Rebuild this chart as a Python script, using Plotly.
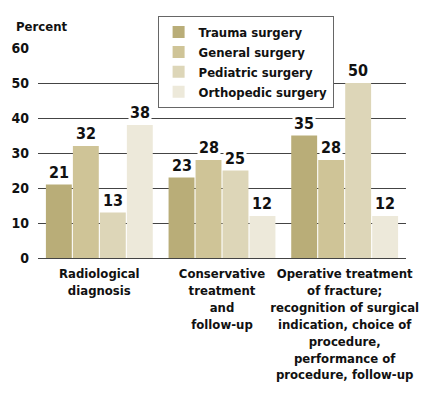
import plotly.graph_objects as go

categories = [
    "Radiological<br>diagnosis",
    "Conservative<br>treatment<br>and<br>follow-up",
    "Operative treatment<br>of fracture;<br>recognition of surgical<br>indication, choice of<br>procedure,<br>performance of<br>procedure, follow-up",
]
series_names = ["Trauma surgery", "General surgery", "Pediatric surgery", "Orthopedic surgery"]
trauma = [21, 23, 35]
general = [32, 28, 28]
pediatric = [13, 25, 50]
orthopedic = [38, 12, 12]
y_ticks = [0, 10, 20, 30, 40, 50, 60]

values = [trauma, general, pediatric, orthopedic]
colors = ["#b9ad78", "#cfc497", "#ddd6b8", "#ede9da"]

FONT = "DejaVu Sans Condensed, Liberation Sans Narrow, Roboto, sans-serif"

W, H = 424, 404
ml, mr, mt, mb = 38, 18, 48, 146
bargap = 0.12
slot = (W - ml - mr) / len(categories) * (1 - bargap) / len(series_names)

fig = go.Figure()
annotations = []
for j, (name, vals, col) in enumerate(zip(series_names, values, colors)):
    fig.add_trace(go.Bar(
        name=name, x=categories, y=vals, marker=dict(color=col, line=dict(width=0)),
    ))
    for c, v in zip(categories, vals):
        annotations.append(dict(
            x=c, y=v, xref="x", yref="y", text=str(v), showarrow=False,
            yanchor="bottom", yshift=1, xshift=(j - 1.5) * slot,
            bgcolor="white", borderpad=1,
            font=dict(family=FONT, size=16, color="#111", weight="bold"),
        ))

annotations.append(dict(
    x=0, y=1, xref="paper", yref="paper", xanchor="left", yanchor="bottom",
    xshift=-ml + 14, yshift=12, text="Percent", showarrow=False,
    font=dict(family=FONT, size=13, color="#111", weight="bold"),
))

fig.update_layout(
    width=W, height=H, margin=dict(l=ml, r=mr, t=mt, b=mb, autoexpand=False),
    paper_bgcolor="white", plot_bgcolor="white",
    barmode="group", bargap=bargap, bargroupgap=0.04,
    font=dict(family=FONT, size=13, color="#111", weight="bold"),
    showlegend=True,
    legend=dict(
        x=0.325, y=1.152, xanchor="left", yanchor="top",
        bgcolor="white", bordercolor="#666", borderwidth=1,
        font=dict(family=FONT, size=13, color="#111", weight="bold"),
        tracegroupgap=2, itemsizing="constant", itemwidth=30,
    ),
    annotations=annotations,
)
fig.update_yaxes(
    range=[0, 60], tickvals=y_ticks, showgrid=True, gridcolor="#444", gridwidth=1,
    zeroline=True, zerolinecolor="#444", zerolinewidth=1, showline=False,
    ticks="", ticklabelstandoff=8, automargin=False,
    tickfont=dict(family=FONT, size=14, color="#111", weight="bold"),
)
fig.update_xaxes(
    showline=False, ticks="", showgrid=False, automargin=False,
    tickfont=dict(family=FONT, size=13, color="#111", weight="bold"),
    ticklabelstandoff=6, tickangle=0,
)

fig.write_html("out.html", config={"displayModeBar": False},
               post_script="document.body.style.margin='0';")
